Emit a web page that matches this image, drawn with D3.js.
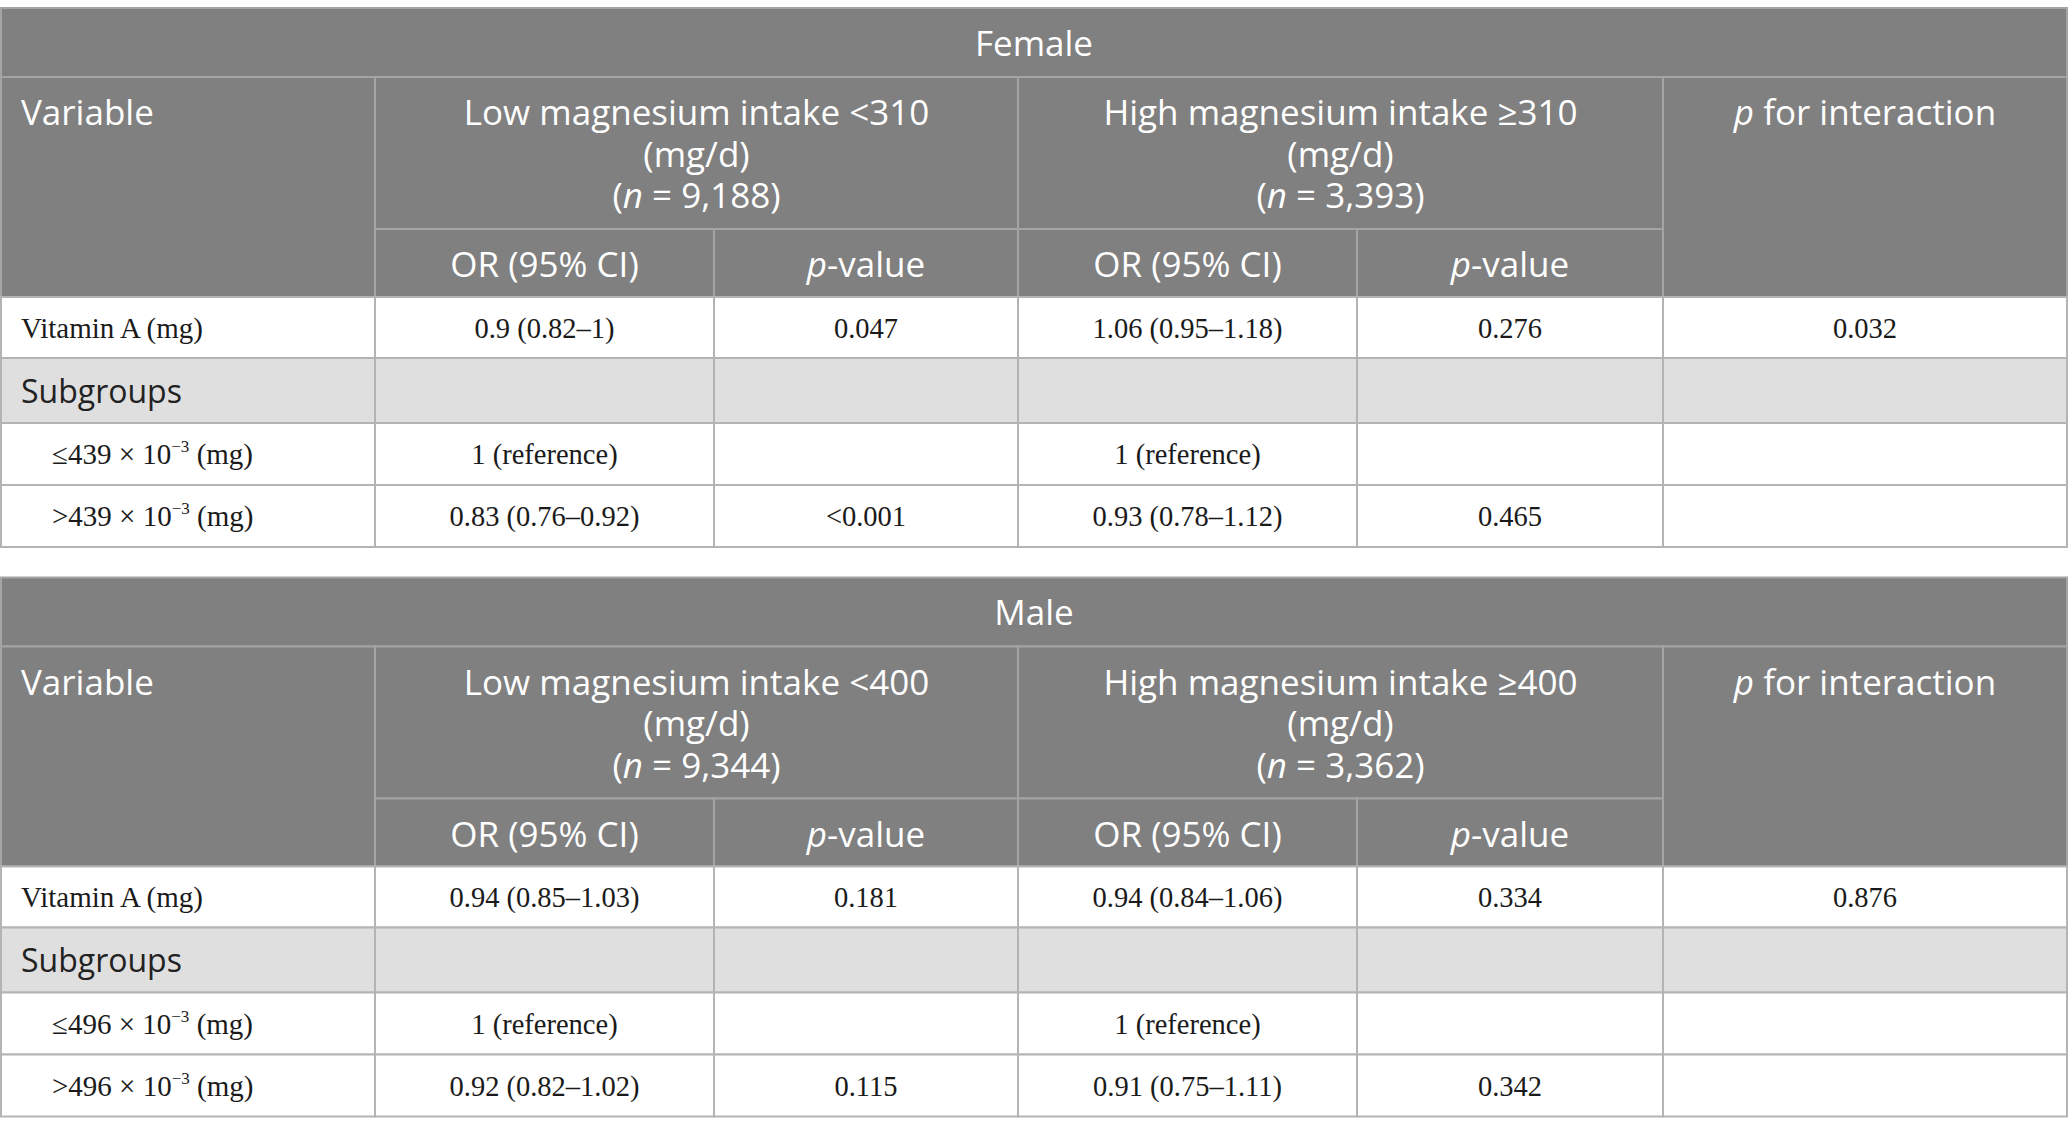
<!DOCTYPE html>
<html>
<head>
<meta charset="utf-8">
<script src="https://cdn.jsdelivr.net/npm/d3@7"></script>
<style>
  body { margin: 0; background: #fff; }
  svg { display: block; }
</style>
</head>
<body>
<div id="table"></div>
<script>
const sexes = ["Female", "Male"];
const magCutoffs = [310, 400];
const nLow = ["9,188", "9,344"];
const nHigh = ["3,393", "3,362"];
const vitCutoffs = [439, 496];
const vitaminOR = [["0.9 (0.82–1)", "1.06 (0.95–1.18)"], ["0.94 (0.85–1.03)", "0.94 (0.84–1.06)"]];
const vitaminP = [["0.047", "0.276"], ["0.181", "0.334"]];
const pInteraction = ["0.032", "0.876"];
const highOR = [["0.83 (0.76–0.92)", "0.93 (0.78–1.12)"], ["0.92 (0.82–1.02)", "0.91 (0.75–1.11)"]];
const highP = [["<0.001", "0.465"], ["0.115", "0.342"]];
const refLabel = "1 (reference)";

const W = 2068, H = 1135;
const tableTops = [8, 577.5];

const svg = d3.select("#table")
  .append("svg")
    .attr("width", W)
    .attr("height", H);

// column edges and row edges (row edges relative to table top)
const x = d3.scaleLinear()
  .domain([0, 1, 2, 3, 4, 5, 6])
  .range([1, 375, 714, 1018, 1357, 1663, 2067]);
const yRow = d3.scaleLinear()
  .domain([0, 1, 2, 3, 4, 5, 6, 7])
  .range([0, 69, 221, 289, 350, 415, 477, 539]);

const headFill = "#7f807f", headLine = "#a4a4a4",
      bodyLine = "#b4b4b4", subFill = "#e0dfe0";
const sans = "'Open Sans', 'Noto Sans', sans-serif";
const serif = "'Liberation Serif', 'Times New Roman', serif";

function seg(t, o) { return Object.assign({t: t}, o || {}); }

function addText(g, tx, ty, anchor, segs, font, size, color, weight) {
  const txt = g.append("text")
    .attr("x", tx).attr("y", ty)
    .attr("text-anchor", anchor)
    .style("font-family", font)
    .style("font-size", size + "px")
    .style("font-weight", weight || 400)
    .attr("fill", color);
  let shift = 0;
  segs.forEach(s => {
    const sp = txt.append("tspan").text(s.t);
    if (s.italic) sp.style("font-style", "italic");
    if (s.sup) {
      sp.style("font-size", Math.round(size * 0.6) + "px").attr("dy", -12);
      shift = 12;
    } else if (shift) {
      sp.attr("dy", shift);
      shift = 0;
    }
  });
}

sexes.forEach((sex, t) => {
  const g = svg.append("g").attr("transform", `translate(0,${tableTops[t]})`);
  const cells = [];
  const head = (c0, c1, r0, r1) => cells.push({c0, c1, r0, r1, fill: headFill, stroke: headLine});
  head(0, 6, 0, 1);
  head(0, 1, 1, 3);
  head(1, 3, 1, 2);
  head(3, 5, 1, 2);
  head(5, 6, 1, 3);
  [1, 2, 3, 4].forEach(c => head(c, c + 1, 2, 3));
  [3, 4, 5, 6].forEach(r => {
    [0, 1, 2, 3, 4, 5].forEach(c => cells.push({c0: c, c1: c + 1, r0: r, r1: r + 1,
      fill: r === 4 ? subFill : "#fff", stroke: bodyLine}));
  });

  g.selectAll("rect")
    .data(cells)
    .join("rect")
      .attr("x", d => x(d.c0))
      .attr("y", d => yRow(d.r0))
      .attr("width", d => x(d.c1) - x(d.c0))
      .attr("height", d => yRow(d.r1) - yRow(d.r0))
      .attr("fill", d => d.fill)
      .attr("stroke", d => d.stroke)
      .attr("stroke-width", 2);

  const mid = (a, b) => (a + b) / 2;
  const white = "#ffffff";

  // title row
  addText(g, W / 2, mid(yRow(0), yRow(1)) + 13, "middle", [seg(sex)], sans, 35, white);

  // header
  addText(g, 21, yRow(1) + 48, "start", [seg("Variable")], sans, 35, white);
  const groups = [
    {c0: 1, c1: 3, lines: [[seg("Low magnesium intake <" + magCutoffs[t])], [seg("(mg/d)")],
      [seg("("), seg("n", {italic: true}), seg(" = " + nLow[t] + ")")]]},
    {c0: 3, c1: 5, lines: [[seg("High magnesium intake ≥" + magCutoffs[t])], [seg("(mg/d)")],
      [seg("("), seg("n", {italic: true}), seg(" = " + nHigh[t] + ")")]]}
  ];
  groups.forEach(gr => {
    gr.lines.forEach((ln, i) => {
      addText(g, mid(x(gr.c0), x(gr.c1)), yRow(1) + 48 + i * 41.5, "middle", ln, sans, 35, white);
    });
  });
  addText(g, mid(x(5), x(6)), yRow(1) + 48, "middle",
    [seg("p", {italic: true}), seg(" for interaction")], sans, 35, white);
  [1, 3].forEach(c => {
    addText(g, mid(x(c), x(c + 1)), mid(yRow(2), yRow(3)) + 14, "middle",
      [seg("OR (95% CI)")], sans, 35, white);
    addText(g, mid(x(c + 1), x(c + 2)), mid(yRow(2), yRow(3)) + 14, "middle",
      [seg("p", {italic: true}), seg("-value")], sans, 35, white);
  });

  // body rows
  const dark = "#1a1a1a";
  const bodyRows = [
    {label: [seg("Vitamin A (mg)")], indent: 21,
      vals: [vitaminOR[t][0], vitaminP[t][0], vitaminOR[t][1], vitaminP[t][1], pInteraction[t]]},
    {label: null, vals: ["", "", "", "", ""]},
    {label: [seg("≤" + vitCutoffs[t] + " × 10"), seg("−3", {sup: true}), seg(" (mg)")], indent: 52,
      vals: [refLabel, "", refLabel, "", ""]},
    {label: [seg(">" + vitCutoffs[t] + " × 10"), seg("−3", {sup: true}), seg(" (mg)")], indent: 52,
      vals: [highOR[t][0], highP[t][0], highOR[t][1], highP[t][1], ""]}
  ];
  bodyRows.forEach((row, i) => {
    const r = i + 3;
    const cy = mid(yRow(r), yRow(r + 1));
    if (row.label) {
      addText(g, row.indent, cy + 10, "start", row.label, serif, 29, dark);
    } else {
      addText(g, 21, cy + 12, "start", [seg("Subgroups")], sans, 32, "#222", 400);
    }
    row.vals.forEach((v, j) => {
      if (v) addText(g, mid(x(j + 1), x(j + 2)), cy + 10, "middle", [seg(v)], serif, 28.5, dark);
    });
  });
});
</script>
</body>
</html>
